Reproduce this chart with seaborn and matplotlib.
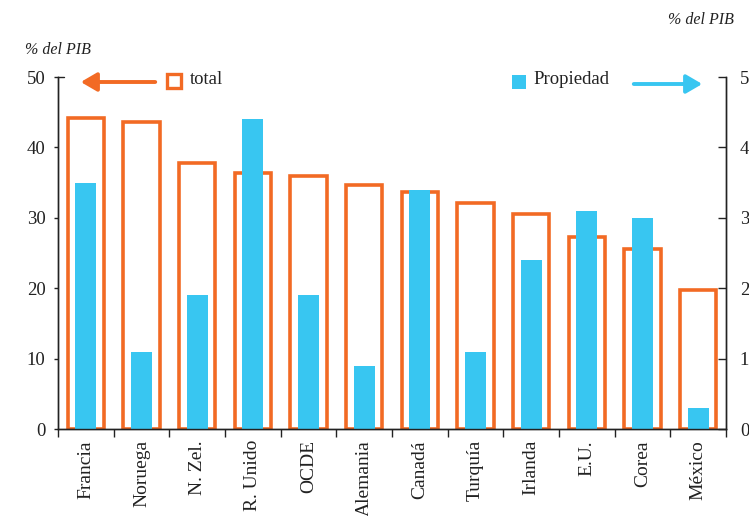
import matplotlib
matplotlib.use("Agg")
import matplotlib.pyplot as plt
from matplotlib.lines import Line2D
from matplotlib.patches import FancyArrowPatch
import seaborn as sns
import pandas as pd

# Categories and values
paises = ["Francia", "Noruega", "N. Zel.", "R. Unido", "OCDE", "Alemania",
          "Canadá", "Turquía", "Irlanda", "E.U.", "Corea", "México"]
total = [44.2, 43.6, 37.8, 36.4, 35.9, 34.7, 33.7, 32.1, 30.5, 27.3, 25.6, 19.7]
propiedad = [3.5, 1.1, 1.9, 4.4, 1.9, 0.9, 3.4, 1.1, 2.4, 3.1, 3.0, 0.3]
ticks_izq = [0, 10, 20, 30, 40, 50]
ticks_der = [0, 1, 2, 3, 4, 5]

NARANJA = "#F26A24"
AZUL = "#38C6F1"
TINTA = "#222222"

sns.set_theme(style="white")
plt.rcParams["font.family"] = ["Liberation Serif", "DejaVu Serif"]

df = pd.DataFrame({"pais": paises, "total": total, "propiedad": propiedad})

fig = plt.figure(figsize=(7.49, 5.16), dpi=100)
ax = fig.add_axes([58 / 749, 87 / 516, 668 / 749, 352 / 516])

sns.barplot(data=df, x="pais", y="total", ax=ax, width=0.655,
            facecolor="white", edgecolor=NARANJA, linewidth=2.6)
ax.set_ylim(0, 50)
ax.set_xlim(-0.5, len(paises) - 0.5)
ax.set_yticks(ticks_izq)
ax.set_yticklabels([str(t) for t in ticks_izq], fontsize=13.5, color=TINTA)

ax2 = ax.twinx()
sns.barplot(data=df, x="pais", y="propiedad", ax=ax2, width=0.375,
            color=AZUL, linewidth=0, saturation=1)
ax2.set_ylim(0, 5)
ax2.set_yticks(ticks_der)
ax2.set_yticklabels([str(t) for t in ticks_der], fontsize=13.5, color=TINTA)
ax2.set_xlim(-0.5, len(paises) - 0.5)

for a in (ax, ax2):
    a.set_xlabel("")
    a.set_ylabel("")
    a.spines["top"].set_visible(False)
    for s in ("left", "right", "bottom"):
        a.spines[s].set_color(TINTA)
        a.spines[s].set_linewidth(1.0)

# Category labels with ticks at the boundaries between bars
ax.set_xticks(range(len(paises)))
ax.set_xticklabels(paises, rotation=90, fontsize=14, color=TINTA)
ax.tick_params(axis="x", which="major", length=0, pad=8)
ax.set_xticks([i - 0.5 for i in range(len(paises) + 1)], minor=True)
ax.tick_params(axis="x", which="minor", direction="out", length=6,
               width=1, color=TINTA, bottom=True)
ax.tick_params(axis="y", direction="out", length=3, width=1,
               color=TINTA, left=True, pad=6)
ax2.tick_params(axis="y", direction="in", length=6, width=1,
                color=TINTA, right=True, pad=10)
ax2.tick_params(axis="x", bottom=False, labelbottom=False)

# Short inward cap at the top of the left axis
ax.add_artist(Line2D([0, 0.009], [1, 1], transform=ax.transAxes,
                     color=TINTA, linewidth=1.0, clip_on=False))

# Axis titles
fig.text(25 / 749, 1 - 50 / 516, "% del PIB", fontsize=11.5, style="italic",
         color=TINTA, va="center", ha="left")
fig.text(668 / 749, 1 - 20 / 516, "% del PIB", fontsize=11.5, style="italic",
         color=TINTA, va="center", ha="left")

# Legend keys with arrows pointing to the matching axis
fig.add_artist(Line2D([174 / 749], [1 - 80.5 / 516], marker="s", markersize=10,
                      markerfacecolor="white", markeredgecolor=NARANJA,
                      markeredgewidth=2.4, transform=fig.transFigure))
fig.text(190 / 749, 1 - 80 / 516, "total", fontsize=13.5, color=TINTA,
         va="center", ha="left")
fig.add_artist(Line2D([519 / 749], [1 - 81.5 / 516], marker="s", markersize=9.5,
                      markerfacecolor=AZUL, markeredgecolor=AZUL,
                      markeredgewidth=0, transform=fig.transFigure))
fig.text(533 / 749, 1 - 80 / 516, "Propiedad", fontsize=13.5, color=TINTA,
         va="center", ha="left")

fig.add_artist(FancyArrowPatch(
    (158 / 749, 1 - 82 / 516), (78 / 749, 1 - 82 / 516),
    transform=fig.transFigure, arrowstyle="-|>,head_length=6,head_width=3.5",
    color=NARANJA, linewidth=2.8, mutation_scale=1.6))
fig.add_artist(FancyArrowPatch(
    (631 / 749, 1 - 84 / 516), (705 / 749, 1 - 84 / 516),
    transform=fig.transFigure, arrowstyle="-|>,head_length=6,head_width=3.5",
    color=AZUL, linewidth=2.8, mutation_scale=1.6))

fig.savefig("out.png", dpi=100, facecolor="white")
